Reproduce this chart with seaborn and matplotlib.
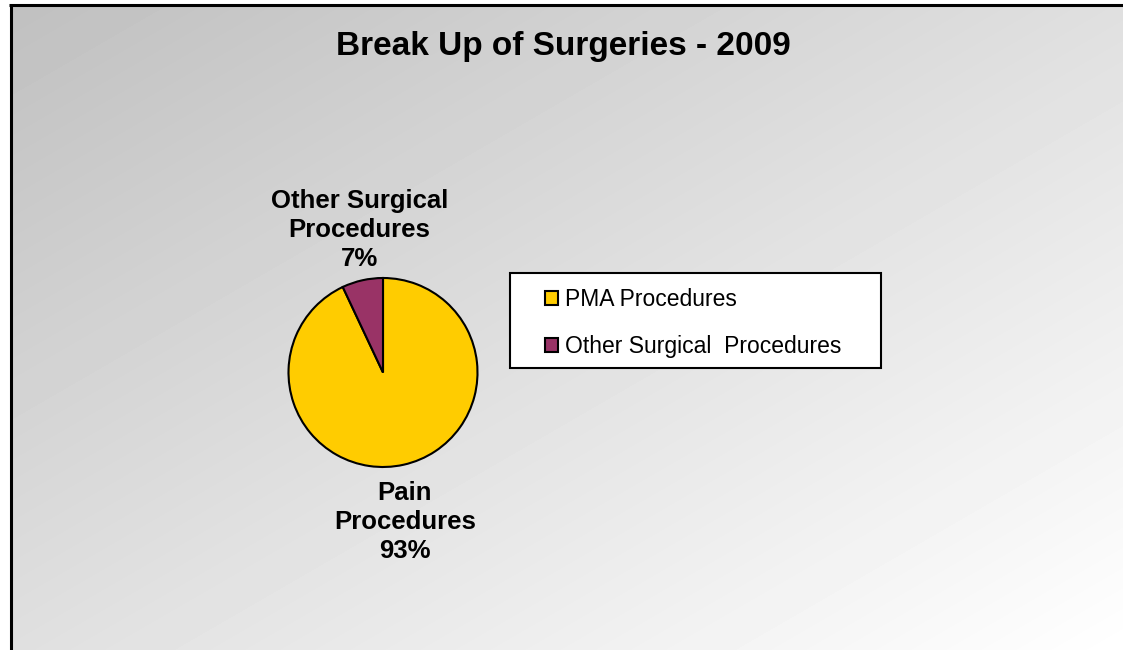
import numpy as np
import matplotlib
matplotlib.use("Agg")
import matplotlib.pyplot as plt
from matplotlib.patches import Rectangle
import seaborn as sns

# Data
slice_labels = ["Pain\nProcedures", "Other Surgical\nProcedures"]
legend_labels = ["PMA Procedures", "Other Surgical  Procedures"]
values = [93, 7]
slice_colors = ["#FFCC00", "#993366"]
title = "Break Up of Surgeries - 2009"

sns.set_style("white")
plt.rcParams['font.family'] = ['Liberation Sans', 'DejaVu Sans']
plt.rcParams['text.color'] = 'black'

W, H = 1123, 650
fig = plt.figure(figsize=(W / 100, H / 100), dpi=100)

# Gradient background (grey top-left to white bottom-right)
bg = fig.add_axes([0, 0, 1, 1])
bg.axis('off')
yy, xx = np.mgrid[0:H, 0:W]
t = (xx / (W - 1) + yy / (H - 1)) / 2
grad = 0.75 + 0.25 * t
grad[:, :10] = 1.0
grad[:5, :] = 1.0
bg.imshow(grad, cmap='gray', vmin=0, vmax=1, extent=[0, W, H, 0], aspect='auto', interpolation='bilinear')
bg.set_xlim(0, W)
bg.set_ylim(H, 0)
# chart frame (top and left edges visible)
bg.plot([10.5, 10.5], [5, H], color='black', lw=2.2, solid_capstyle='butt')
bg.plot([9, W], [5, 5], color='black', lw=2.2, solid_capstyle='butt')
# legend box
bg.add_patch(Rectangle((509.5, 272.5), 371, 95, facecolor='white', edgecolor='black', lw=1.5))

# Title
fig.text(563 / W, 1 - 47 / H, title, ha='center', va='center', fontsize=24, fontweight='bold')

# Pie
ax = fig.add_axes([288 / W, (H - 467) / H, 190 / W, 189 / H])
total = sum(values)
labels = [f"{lab}\n{v / total * 100:.0f}%" for lab, v in zip(slice_labels, values)]
wedges, texts = ax.pie(values, colors=slice_colors, startangle=90, counterclock=False,
                       labels=labels, labeldistance=1.53,
                       wedgeprops=dict(edgecolor='black', linewidth=1.5),
                       textprops=dict(fontsize=18.5, fontweight='bold', linespacing=1.25))
# Excel-like label placement
label_pos = [(0.23, -1.58), (-0.25, 1.51)]
for tx, pos in zip(texts, label_pos):
    tx.set_position(pos)
    tx.set_ha('center')
    tx.set_va('center')
    tx.set_multialignment('center')
ax.set_xlim(-1, 1)
ax.set_ylim(-1, 1)

# Legend
ax.legend(wedges, legend_labels, loc='center left',
          bbox_to_anchor=(534 / W, 1 - 323 / H), bbox_transform=fig.transFigure,
          frameon=False, fontsize=16.5, handlelength=0.55, handleheight=0.55,
          handletextpad=0.3, labelspacing=1.05, borderpad=0)

fig.savefig("out.png", dpi=100)
